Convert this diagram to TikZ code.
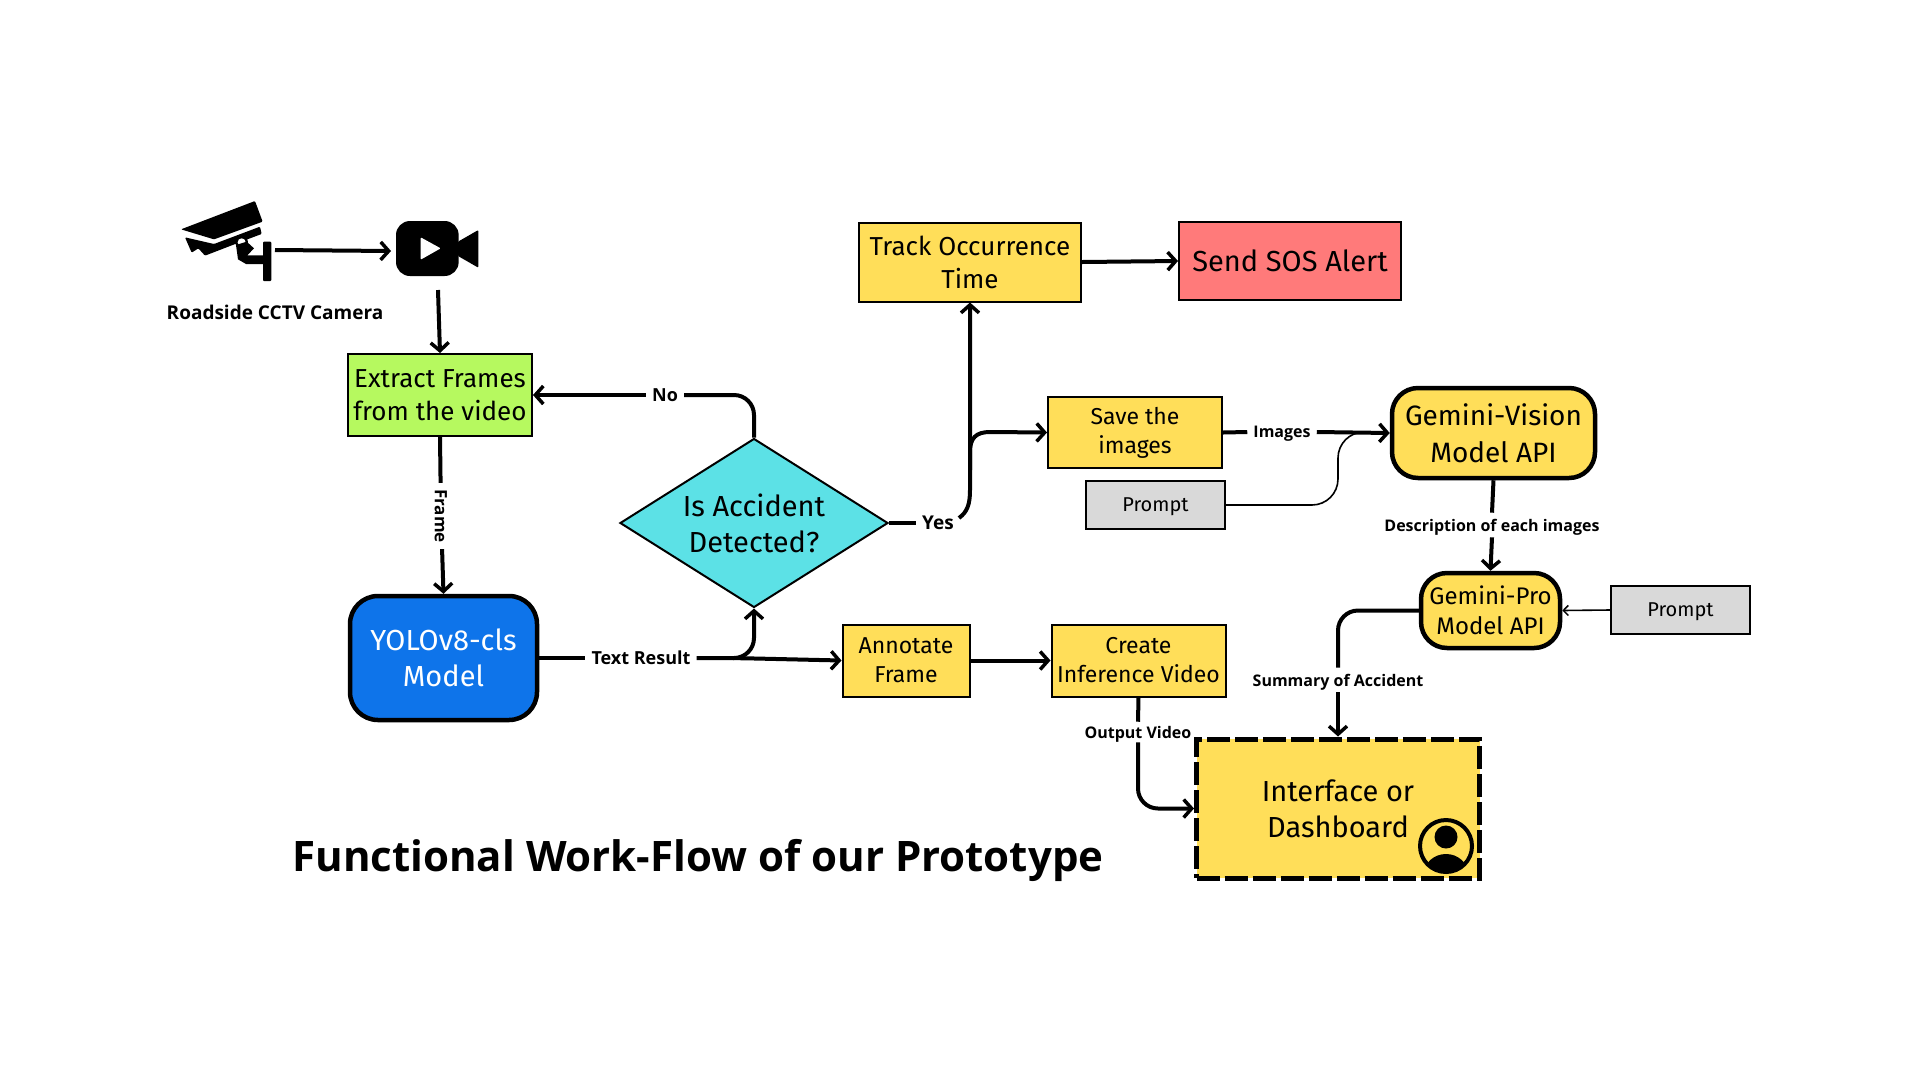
\documentclass[tikz,border=0pt]{standalone}
\usepackage{fontspec}
\setmainfont{Fira Sans}
\newfontfamily\tagfont{Open Sans}[BoldFont={Open Sans Bold}]
\usetikzlibrary{arrows.meta,shapes.geometric}

\definecolor{boxyellow}{HTML}{FFDE59}
\definecolor{boxgreen}{HTML}{B6F95F}
\definecolor{boxcyan}{HTML}{5CE1E6}
\definecolor{boxred}{HTML}{FF7A7A}
\definecolor{boxblue}{HTML}{0E74EA}
\definecolor{boxgray}{HTML}{D9D9D9}

\newcommand{\fs}[1]{\fontsize{#1}{\the\numexpr#1*5/4\relax}\selectfont}

\tikzset{
  plainbox/.style={draw,shape=rectangle,line width=2,align=center,inner sep=0},
  roundbox/.style={plainbox,rounded corners=26,line width=4.5},
  promptbox/.style={plainbox,fill=boxgray,minimum width=139,minimum height=48,text depth=0,font=\fs{20}},
  tag/.style={font=\tagfont\fs{#1}\bfseries,inner sep=6,text depth=0},
  line/.style={line width=4,rounded corners=20},
  arrow/.style={line,-{Straight Barb[length=8,width=18,line width=3.5]}},
  thin arrow/.style={line width=1.6,rounded corners=26}
}

\begin{document}
\begin{tikzpicture}[x=1pt,y=-1pt]
   \useasboundingbox (0,0) rectangle (1920,1080);

   \path (440,395) node[plainbox,fill=boxgreen,minimum width=184,minimum height=82,font=\fs{26}] (Extract) {Extract Frames\\from the video};
   \path (443.5,658) node[roundbox,fill=boxblue,text=white,minimum width=187,minimum height=124,rounded corners=28,font=\fs{29}] (Yolo) {YOLOv8-cls\\Model};
   \path (754,523) node[draw,shape=diamond,aspect=1.586,fill=boxcyan,line width=2,minimum width=268,minimum height=169,inner sep=0,align=center,font=\fs{29}] (Diamond) {Is Accident\\Detected?};
   \path (970,262) node[plainbox,fill=boxyellow,minimum width=222,minimum height=79,font=\fs{26}] (Track) {Track Occurrence\\Time};
   \path (1290,261) node[plainbox,fill=boxred,minimum width=222,minimum height=78,font=\fs{29}] (Send) {Send SOS Alert};
   \path (1135,432.5) node[plainbox,fill=boxyellow,minimum width=174,minimum height=71,font=\fs{23}] (Save) {Save the\\images};
   \path (1155.5,505) node[promptbox] (PromptA) {Prompt};
   \path (1493.5,433) node[roundbox,fill=boxyellow,minimum width=203,minimum height=90,font=\fs{28}] (Vision) {Gemini-Vision\\[2pt]Model API};
   \path (1490.5,610.5) node[roundbox,fill=boxyellow,minimum width=139,minimum height=75,font=\fs{24}] (Pro) {Gemini-Pro\\Model API};
   \path (1680.5,610) node[promptbox] (PromptB) {Prompt};
   \path (906,660.5) node[plainbox,fill=boxyellow,minimum width=127,minimum height=72,font=\fs{23}] (Annotate) {Annotate\\Frame};
   \path (1138.5,660.5) node[plainbox,fill=boxyellow,minimum width=174,minimum height=72,font=\fs{23}] (Create) {Create\\Inference Video};
   \path (1338,808.5) node[plainbox,fill=boxyellow,minimum width=283,minimum height=139,line width=5,dash pattern=on 23 off 5,font=\fs{29}] (Panel) {Interface or\\Dashboard};

   \path (275,312) node[tag=19] (CamName) {Roadside CCTV Camera};
   \path (698,855) node[tag=42] (Title) {Functional Work-Flow of our Prototype};

   \path (441,516) node[tag=17,rotate=-90] (FrameTag) {Frame};
   \path (665,395) node[tag=18] (NoTag) {No};
   \path (938,523) node[tag=19] (YesTag) {Yes};
   \path (641,658) node[tag=18] (ResultTag) {Text Result};
   \path (1282,432) node[tag=16] (ImagesTag) {Images};
   \path (1492,525) node[tag=16] (DescTag) {Description of each images};
   \path (1338,680) node[tag=16] (SumTag) {Summary of Accident};
   \path (1138,732) node[tag=16,inner sep=4] (OutTag) {Output Video};

   %camera
   \begin{scope}[shift={(150,180)},scale=1/3]
     \fill[rounded corners=1] (93,148) -- (315,63) -- (338,125) -- (192,178) -- cycle;
     \fill[rounded corners=1] (105,172) -- (192,192) -- (330,140) -- (335,162) -- (292,178) -- (165,227) -- (145,205) -- (125,218) -- cycle;
     \fill (275,187) circle (19);
     \fill[white] (275,187) circle (12);
     \fill (258,195) -- (290,185) -- (312,205) -- (292,226) -- (345,226) -- (345,252) -- (288,252) -- (264,238) -- cycle;
     \fill[rounded corners=1] (339,185) rectangle (364,303);
   \end{scope}
   \coordinate (CamOut) at (275,250);

   %video icon
   \begin{scope}[shift={(150,180)},scale=1/3]
     \fill[rounded corners=14] (738,123) rectangle (926,288);
     \fill[rounded corners=1] (924,185) -- (985,150) -- (985,263) -- (924,228) -- cycle;
     \fill[white,rounded corners=1] (812,172) -- (872,205) -- (812,239) -- cycle;
   \end{scope}
   \coordinate (VidIn) at (391,251);
   \coordinate (VidOut) at (438,290);

   %person icon
   \begin{scope}
     \clip (1446,846) circle (26);
     \fill (1446,874) ellipse (22 and 20);
   \end{scope}
   \fill (1446,837) circle (11.5);
   \draw[line width=4] (1446,846) circle (26);

   %arrows
   \coordinate (YesOut) at (959,518);
   \coordinate (ResultJoin) at (733,658);
   \draw[arrow] (CamOut) -- (VidIn);
   \draw[arrow] (VidOut) -- (Extract.north);
   \draw[line] (Extract.south) -- (FrameTag);
   \draw[arrow] (FrameTag) -- (Yolo.north);
   \draw[line] (Diamond.north) |- (NoTag.east);
   \draw[arrow] (NoTag.west) -- (Extract.east);
   \draw[line] (Diamond.east) -- (YesTag.west);
   \draw[arrow,sharp corners] (YesOut) .. controls (967,512) and (970,505) .. (970,490) -- (Track.south);
   \draw[arrow,sharp corners] (970,470) -- (970,452) .. controls (970,438) and (976,432) .. (990,432) -- (Save.west);
   \draw[arrow] (Track.east) -- (Send.west);
   \draw[line] (Save.east) -- (ImagesTag.west);
   \draw[arrow] (ImagesTag.east) -- (Vision.west);
   \draw[thin arrow] (PromptA.east) -| (1338,432) -- (1375,432);
   \draw[line] (Vision.south) -- (DescTag.north);
   \draw[arrow] (DescTag.south) -- (Pro.north);
   \draw[thin arrow,-{Straight Barb[length=5,width=10,line width=1.5]}] (PromptB.west) -- (Pro.east);
   \draw[line] (Pro.west) -| (SumTag.north);
   \draw[arrow] (SumTag.south) -- (SumTag.south |- Panel.north);
   \draw[line] (Yolo.east) -- (ResultTag.west);
   \draw[arrow] (ResultTag.east) -- (ResultJoin) -- (Annotate.west);
   \draw[arrow] (ResultJoin) -| (Diamond.south);
   \draw[arrow] (Annotate.east) -- (Create.west);
   \draw[line] (Create.south) -- (OutTag.north);
   \draw[arrow] (OutTag.south) |- (Panel.west);
\end{tikzpicture}
\end{document}
